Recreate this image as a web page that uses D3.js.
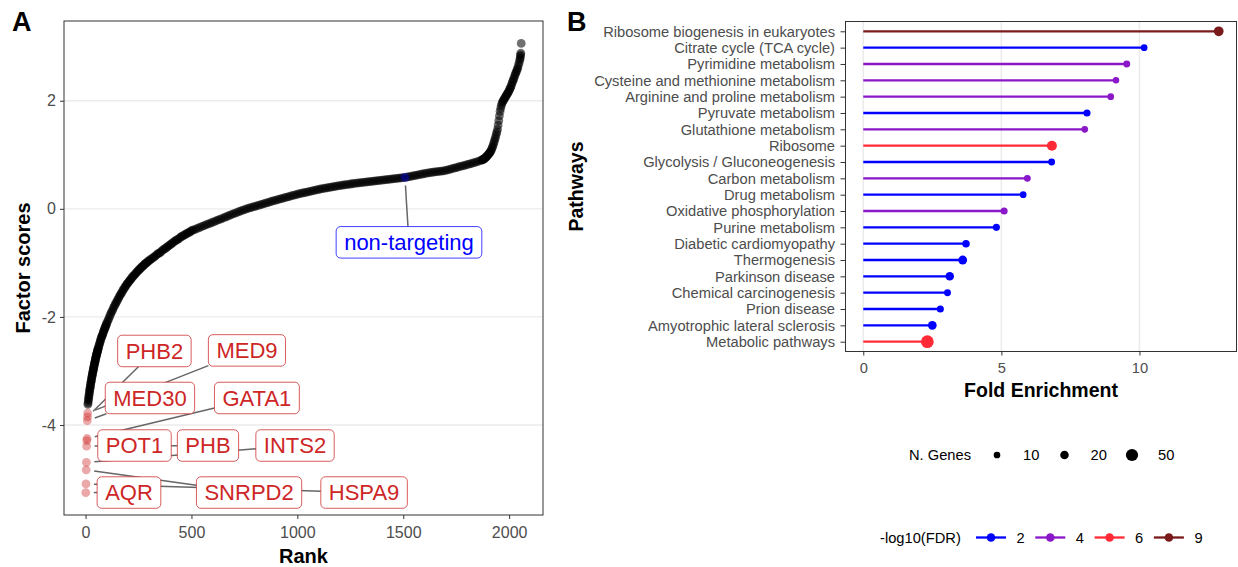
<!DOCTYPE html>
<html>
<head>
<meta charset="utf-8">
<script src="https://cdn.jsdelivr.net/npm/d3@7"></script>
<style>
  body { margin: 0; background: #fff; }
  svg { display: block; font-family: "Liberation Sans", Arial, Helvetica, sans-serif; }
</style>
</head>
<body>
<svg id="fig" width="1238" height="567"></svg>
<script>
// ---------------- Panel A data: ranked factor scores ----------------
// [rank, factor score] along the ranked curve
const rankedScores = [
  [11,-3.62],[12,-3.59],[13,-3.55],[14,-3.52],[15,-3.49],[16,-3.46],[17,-3.43],[18,-3.40],[19,-3.37],[20,-3.35],
  [21,-3.32],[22,-3.30],[23,-3.27],[24,-3.25],[25,-3.22],[26,-3.20],[27,-3.18],[28,-3.16],[29,-3.13],[30,-3.11],
  [31,-3.09],[32,-3.07],[33,-3.05],[34,-3.03],[35,-3.01],[36,-2.99],[37,-2.97],[38,-2.95],[39,-2.93],[40,-2.91],
  [41,-2.89],[42,-2.87],[43,-2.85],[44,-2.84],[45,-2.82],[46,-2.80],[47,-2.78],[48,-2.76],[49,-2.75],[50,-2.73],
  [51,-2.71],[52,-2.70],[53,-2.68],[54,-2.67],[55,-2.65],[56,-2.64],[57,-2.62],[58,-2.61],[59,-2.59],[60,-2.58],
  [62,-2.55],[64,-2.52],[66,-2.50],[68,-2.47],[70,-2.44],[72,-2.42],[74,-2.39],[76,-2.37],[78,-2.35],[80,-2.33],
  [82,-2.31],[84,-2.28],[86,-2.26],[88,-2.24],[90,-2.22],[92,-2.20],[94,-2.18],[96,-2.16],[98,-2.14],[100,-2.12],
  [104,-2.08],[108,-2.05],[112,-2.01],[116,-1.97],[120,-1.93],[124,-1.90],[128,-1.87],[132,-1.83],[136,-1.80],[140,-1.77],
  [144,-1.74],[148,-1.71],[152,-1.68],[156,-1.65],[160,-1.62],[164,-1.59],[168,-1.57],[172,-1.54],[176,-1.51],[180,-1.49],
  [184,-1.46],[188,-1.44],[192,-1.41],[196,-1.39],[200,-1.37],[204,-1.35],[208,-1.33],[212,-1.31],[216,-1.29],[220,-1.27],
  [224,-1.25],[228,-1.23],[232,-1.22],[236,-1.20],[240,-1.18],[244,-1.16],[248,-1.15],[252,-1.13],[256,-1.11],[260,-1.10],
  [264,-1.08],[268,-1.07],[272,-1.05],[276,-1.04],[280,-1.02],[284,-1.01],[288,-1.00],[292,-0.98],[296,-0.97],[300,-0.96],
  [306,-0.94],[312,-0.92],[318,-0.91],[324,-0.89],[330,-0.87],[336,-0.85],[342,-0.83],[348,-0.82],[354,-0.80],[360,-0.78],
  [366,-0.76],[372,-0.74],[378,-0.73],[384,-0.71],[390,-0.69],[396,-0.67],[402,-0.66],[408,-0.64],[414,-0.62],[420,-0.60],
  [426,-0.59],[432,-0.57],[438,-0.56],[444,-0.54],[450,-0.52],[456,-0.51],[462,-0.49],[468,-0.48],[474,-0.47],[480,-0.45],
  [486,-0.44],[492,-0.43],[498,-0.41],[504,-0.40],
  [510,-0.390],[520,-0.374],[530,-0.358],[540,-0.342],[550,-0.326],[560,-0.310],[570,-0.294],[580,-0.279],[590,-0.263],[600,-0.248],
  [610,-0.232],[620,-0.216],[630,-0.201],[640,-0.185],[650,-0.170],[660,-0.153],[670,-0.137],[680,-0.120],[690,-0.103],[700,-0.088],
  [710,-0.074],[720,-0.059],[730,-0.045],[740,-0.030],[750,-0.016],[760,-0.002],[770,0.012],[780,0.024],[790,0.035],[800,0.046],
  [810,0.057],[820,0.068],[830,0.080],[840,0.092],[850,0.104],[860,0.116],[870,0.128],[880,0.140],[890,0.151],[900,0.162],
  [910,0.173],[920,0.184],[930,0.195],[940,0.206],[950,0.216],[960,0.227],[970,0.238],[980,0.249],[990,0.259],[1000,0.270],
  [1010,0.279],[1020,0.288],[1030,0.297],[1040,0.305],[1050,0.314],[1060,0.323],[1070,0.332],[1080,0.341],[1090,0.349],[1100,0.358],
  [1110,0.367],[1120,0.375],[1130,0.382],[1140,0.389],[1150,0.396],[1160,0.402],[1170,0.409],[1180,0.416],[1190,0.423],[1200,0.430],
  [1210,0.436],[1220,0.441],[1230,0.447],[1240,0.453],[1250,0.459],[1260,0.464],[1270,0.470],[1280,0.476],[1290,0.480],[1300,0.485],
  [1310,0.489],[1320,0.494],[1330,0.498],[1340,0.503],[1350,0.507],[1360,0.512],[1370,0.516],[1380,0.521],[1390,0.525],[1400,0.530],
  [1410,0.535],[1420,0.539],[1430,0.544],[1440,0.549],[1450,0.553],[1460,0.558],[1470,0.562],[1480,0.567],[1490,0.572],[1500,0.576],
  [1510,0.582],[1520,0.589],[1530,0.597],[1540,0.605],[1550,0.613],[1560,0.620],[1570,0.628],[1580,0.636],[1590,0.644],[1600,0.652],
  [1610,0.660],[1620,0.667],[1630,0.672],[1640,0.677],[1650,0.683],[1660,0.688],[1670,0.694],[1680,0.699],[1690,0.704],[1700,0.710],
  [1710,0.721],[1720,0.731],[1730,0.742],[1740,0.752],[1750,0.763],[1760,0.774],[1770,0.784],[1780,0.795],[1790,0.805],[1800,0.816],
  [1810,0.827],[1820,0.838],[1830,0.849],[1840,0.861],[1850,0.874],[1860,0.887],[1870,0.900],
  [1873,0.905],[1876,0.91],[1879,0.92],[1882,0.93],[1885,0.935],[1888,0.945],[1891,0.955],[1894,0.97],[1897,0.985],[1900,1.00],
  [1903,1.01],[1906,1.03],[1909,1.04],[1912,1.06],[1915,1.08],[1918,1.11],[1921,1.14],[1924,1.17],[1927,1.21],[1930,1.25],
  [1933,1.29],[1936,1.33],[1939,1.38],[1942,1.42],[1945,1.47],[1948,1.55],[1951,1.63],[1954,1.72],[1957,1.80],[1960,1.86],
  [1963,1.91],[1966,1.95],[1969,1.98],[1972,2.00],[1975,2.02],[1978,2.04],[1981,2.06],[1984,2.08],[1987,2.10],[1990,2.12],
  [1993,2.14],[1996,2.16],[1999,2.18],[2002,2.21],[2005,2.23],[2008,2.26],[2011,2.29],[2014,2.33],[2017,2.36],[2020,2.39],
  [2023,2.42],[2026,2.46],[2029,2.49],[2032,2.52],[2035,2.55],[2038,2.58],[2041,2.61],[2044,2.66],[2047,2.70],[2050,2.75],
  [2052,2.78],[2053,2.82],[2054,2.85],[2055,2.88],[2057,3.06]
];

// Top hits (lowest scores), labelled in red
const hitGenes  = ["AQR", "HSPA9", "SNRPD2", "INTS2", "PHB", "POT1", "GATA1", "MED30", "PHB2", "MED9"];
const hitRanks  = [1, 2, 3, 4, 5, 6, 7, 8, 9, 10];
const hitScores = [-5.25, -5.09, -4.83, -4.69, -4.39, -4.29, -4.25, -3.92, -3.85, -3.78];
// repelled label anchors (data units)
const hitLabelRanks  = [205, 1315, 772, 989, 578, 231, 809, 304, 325, 762];
const hitLabelScores = [-5.25, -5.25, -5.25, -4.38, -4.38, -4.38, -3.50, -3.50, -2.63, -2.62];

// Non-targeting control guide
const controlNames  = ["non-targeting"];
const controlRanks  = [1508];
const controlScores = [0.58];
const controlLabelRanks  = [1527];
const controlLabelScores = [-0.62];

const xTicksA = [0, 500, 1000, 1500, 2000];
const yTicksA = [-4, -2, 0, 2];

// ---------------- Panel B data: KEGG pathway enrichment ----------------
const pathways = [
  "Ribosome biogenesis in eukaryotes", "Citrate cycle (TCA cycle)", "Pyrimidine metabolism",
  "Cysteine and methionine metabolism", "Arginine and proline metabolism", "Pyruvate metabolism",
  "Glutathione metabolism", "Ribosome", "Glycolysis / Gluconeogenesis", "Carbon metabolism",
  "Drug metabolism", "Oxidative phosphorylation", "Purine metabolism", "Diabetic cardiomyopathy",
  "Thermogenesis", "Parkinson disease", "Chemical carcinogenesis", "Prion disease",
  "Amyotrophic lateral sclerosis", "Metabolic pathways"
];
const foldEnrichment = [12.87, 10.17, 9.54, 9.15, 8.96, 8.10, 8.02, 6.83, 6.82, 5.94,
                        5.79, 5.10, 4.82, 3.72, 3.60, 3.13, 3.05, 2.79, 2.50, 2.32];
const nGenes    = [28, 10, 11, 9, 10, 12, 10, 30, 11, 11, 10, 12, 12, 14, 22, 20, 11, 12, 21, 55];
const negLogFDR = [9, 2, 4, 4, 4, 2, 4, 6, 2, 4, 2, 4, 2, 2, 2, 2, 2, 2, 2, 6];

const xTicksB   = [0, 5, 10];
const geneBreaks = [10, 20, 50];
const fdrBreaks  = [2, 4, 6, 9];
const fdrColors  = ["#0000ff", "#8a17c8", "#ff2a36", "#7a1a1a"];

// ---------------- drawing ----------------
const svg = d3.select("#fig");
const expand = (ext, f = 0.05) => { const s = ext[1] - ext[0]; return [ext[0] - s * f, ext[1] + s * f]; };
const GRID = "#ebebeb", BORDER = "#333333", TICKTXT = "#4d4d4d";

function styleAxis(g, size) {
  g.select(".domain").remove();
  g.selectAll(".tick line").attr("stroke", BORDER).attr("stroke-width", 1);
  g.selectAll(".tick text").attr("fill", TICKTXT).attr("font-size", size)
    .attr("font-family", '"Liberation Sans", Arial, sans-serif');
}

// ===== Panel A =====
const A = { left: 64, right: 543, top: 21, bottom: 515 };
const allRanks  = rankedScores.map(d => d[0]).concat(hitRanks);
const allScores = rankedScores.map(d => d[1]).concat(hitScores);
const xA = d3.scaleLinear().domain(expand(d3.extent(allRanks))).range([A.left, A.right]);
const yA = d3.scaleLinear().domain(expand(d3.extent(allScores))).range([A.bottom, A.top]);

const gA = svg.append("g");
gA.selectAll("line.grid").data(yTicksA).join("line")
  .attr("x1", A.left).attr("x2", A.right)
  .attr("y1", d => yA(d)).attr("y2", d => yA(d))
  .attr("stroke", GRID).attr("stroke-width", 1.3);

const R_PT = 4.4;
gA.append("g").selectAll("circle").data(rankedScores).join("circle")
  .attr("cx", d => xA(d[0])).attr("cy", d => yA(d[1])).attr("r", R_PT)
  .attr("fill", "#000").attr("fill-opacity", 0.56);

const HIT = "#cd2626";
gA.append("g").selectAll("circle").data(hitRanks).join("circle")
  .attr("cx", (d) => xA(d)).attr("cy", (d, i) => yA(hitScores[i])).attr("r", R_PT)
  .attr("fill", HIT).attr("fill-opacity", 0.4);

gA.append("g").selectAll("circle").data(controlRanks).join("circle")
  .attr("cx", d => xA(d)).attr("cy", (d, i) => yA(controlScores[i])).attr("r", R_PT)
  .attr("fill", "#0000ff").attr("fill-opacity", 0.4);

// repelled labels: measure, then connect with segments drawn underneath
const LABEL_FS = 22;
const labels = [];
hitGenes.forEach((g, i) => labels.push({
  text: g, color: HIT, px: xA(hitRanks[i]), py: yA(hitScores[i]),
  lx: xA(hitLabelRanks[i]), ly: yA(hitLabelScores[i])
}));
controlNames.forEach((g, i) => labels.push({
  text: g, color: "#0000ff", px: xA(controlRanks[i]), py: yA(controlScores[i]),
  lx: xA(controlLabelRanks[i]), ly: yA(controlLabelScores[i])
}));

const segLayer = gA.append("g");
const labLayer = gA.append("g");
labels.forEach(L => {
  const g = labLayer.append("g");
  const rect = g.append("rect");
  const t = g.append("text").text(L.text)
    .attr("x", L.lx).attr("y", L.ly + LABEL_FS * 0.36)
    .attr("text-anchor", "middle").attr("font-size", LABEL_FS).attr("fill", L.color);
  const tw = t.node().getComputedTextLength();
  L.w = tw + 16; L.h = 31.5;
  rect.attr("x", L.lx - L.w / 2).attr("y", L.ly - L.h / 2)
    .attr("width", L.w).attr("height", L.h).attr("rx", 4.5)
    .attr("fill", "#fff").attr("stroke", L.color).attr("stroke-opacity", 0.75).attr("stroke-width", 1);
  // segment from point to the label edge along the centre line
  const dx = L.px - L.lx, dy = L.py - L.ly;
  const tEdge = Math.min(Math.abs(dx) > 1e-9 ? (L.w / 2) / Math.abs(dx) : Infinity,
                         Math.abs(dy) > 1e-9 ? (L.h / 2) / Math.abs(dy) : Infinity);
  const ex = L.lx + dx * tEdge, ey = L.ly + dy * tEdge;
  const len = Math.hypot(L.px - ex, L.py - ey);
  const gap = 8;
  if (tEdge < 1 && len > gap + 3) {
    const sx = L.px + (ex - L.px) * gap / len, sy = L.py + (ey - L.py) * gap / len;
    segLayer.append("line").attr("x1", sx).attr("y1", sy).attr("x2", ex).attr("y2", ey)
      .attr("stroke", "#666").attr("stroke-width", 1.5);
  }
});

gA.append("rect").attr("x", A.left).attr("y", A.top)
  .attr("width", A.right - A.left).attr("height", A.bottom - A.top)
  .attr("fill", "none").attr("stroke", BORDER).attr("stroke-width", 1);

gA.append("g").attr("transform", `translate(${A.left},0)`)
  .call(d3.axisLeft(yA).tickValues(yTicksA).tickSize(4).tickPadding(4).tickFormat(d => String(d)))
  .call(g => styleAxis(g, 16));
gA.append("g").attr("transform", `translate(0,${A.bottom})`)
  .call(d3.axisBottom(xA).tickValues(xTicksA).tickSize(4).tickPadding(8).tickFormat(d => String(d)))
  .call(g => styleAxis(g, 16));

gA.append("text").text("Rank").attr("x", (A.left + A.right) / 2).attr("y", 563)
  .attr("text-anchor", "middle").attr("font-size", 20).attr("font-weight", "bold");
gA.append("text").text("Factor scores")
  .attr("transform", `translate(30,${(A.top + A.bottom) / 2}) rotate(-90)`)
  .attr("text-anchor", "middle").attr("font-size", 20).attr("font-weight", "bold");
svg.append("text").text("A").attr("x", 12).attr("y", 30.5)
  .attr("font-size", 27).attr("font-weight", "bold");

// ===== Panel B =====
const B = { left: 845.5, right: 1236.5, top: 21.5, bottom: 351.5 };
const xB = d3.scaleLinear().domain(expand([0, d3.max(foldEnrichment)])).range([B.left, B.right]);
const yB = d3.scalePoint().domain(pathways).range([B.top, B.bottom]).padding(0.6);
const colorB = d3.scaleLinear().domain(fdrBreaks).range(fdrColors);
const sizeB = d3.scaleSqrt().domain([8, 60]).range([3.1, 6.6]);

const gB = svg.append("g");
gB.selectAll("line.grid").data(xTicksB).join("line")
  .attr("x1", d => xB(d)).attr("x2", d => xB(d)).attr("y1", B.top).attr("y2", B.bottom)
  .attr("stroke", GRID).attr("stroke-width", 1.5);

gB.append("g").selectAll("line").data(pathways).join("line")
  .attr("x1", xB(0)).attr("x2", (d, i) => xB(foldEnrichment[i]))
  .attr("y1", d => yB(d)).attr("y2", d => yB(d))
  .attr("stroke", (d, i) => colorB(negLogFDR[i])).attr("stroke-width", 2.3);
gB.append("g").selectAll("circle").data(pathways).join("circle")
  .attr("cx", (d, i) => xB(foldEnrichment[i])).attr("cy", d => yB(d))
  .attr("r", (d, i) => sizeB(nGenes[i]))
  .attr("fill", (d, i) => colorB(negLogFDR[i]));

gB.append("rect").attr("x", B.left).attr("y", B.top)
  .attr("width", B.right - B.left).attr("height", B.bottom - B.top)
  .attr("fill", "none").attr("stroke", BORDER).attr("stroke-width", 1);

gB.append("g").attr("transform", `translate(${B.left},0)`)
  .call(d3.axisLeft(yB).tickSize(5).tickPadding(5.5))
  .call(g => styleAxis(g, 14.7));
gB.append("g").attr("transform", `translate(0,${B.bottom})`)
  .call(d3.axisBottom(xB).tickValues(xTicksB).tickSize(4).tickPadding(7.5).tickFormat(d => String(d)))
  .call(g => styleAxis(g, 14.7));

gB.append("text").text("Fold Enrichment").attr("x", (B.left + B.right) / 2).attr("y", 397)
  .attr("text-anchor", "middle").attr("font-size", 19.5).attr("font-weight", "bold");
gB.append("text").text("Pathways")
  .attr("transform", `translate(583,${(B.top + B.bottom) / 2}) rotate(-90)`)
  .attr("text-anchor", "middle").attr("font-size", 19.5).attr("font-weight", "bold");
svg.append("text").text("B").attr("x", 567).attr("y", 30.5)
  .attr("font-size", 27).attr("font-weight", "bold");

// size legend
const LEG_FS = 14.7;
const sizeLeg = svg.append("g").attr("transform", "translate(909,455)");
sizeLeg.append("text").text("N. Genes").attr("y", LEG_FS * 0.35).attr("font-size", LEG_FS);
geneBreaks.forEach((n, i) => {
  const cx = 88 + i * 67.5;
  sizeLeg.append("circle").attr("cx", cx).attr("cy", 0).attr("r", sizeB(n)).attr("fill", "#000");
  sizeLeg.append("text").text(n).attr("x", cx + 26).attr("y", LEG_FS * 0.35).attr("font-size", LEG_FS);
});

// colour legend
const colLeg = svg.append("g").attr("transform", "translate(880,537.5)");
colLeg.append("text").text("-log10(FDR)").attr("y", LEG_FS * 0.35).attr("font-size", LEG_FS);
fdrBreaks.forEach((v, i) => {
  const x0 = 96 + i * 59.3;
  colLeg.append("line").attr("x1", x0).attr("x2", x0 + 30).attr("y1", 0).attr("y2", 0)
    .attr("stroke", colorB(v)).attr("stroke-width", 2.3);
  colLeg.append("circle").attr("cx", x0 + 15).attr("cy", 0).attr("r", 4.3).attr("fill", colorB(v));
  colLeg.append("text").text(v).attr("x", x0 + 40.5).attr("y", LEG_FS * 0.35).attr("font-size", LEG_FS);
});
</script>
</body>
</html>
